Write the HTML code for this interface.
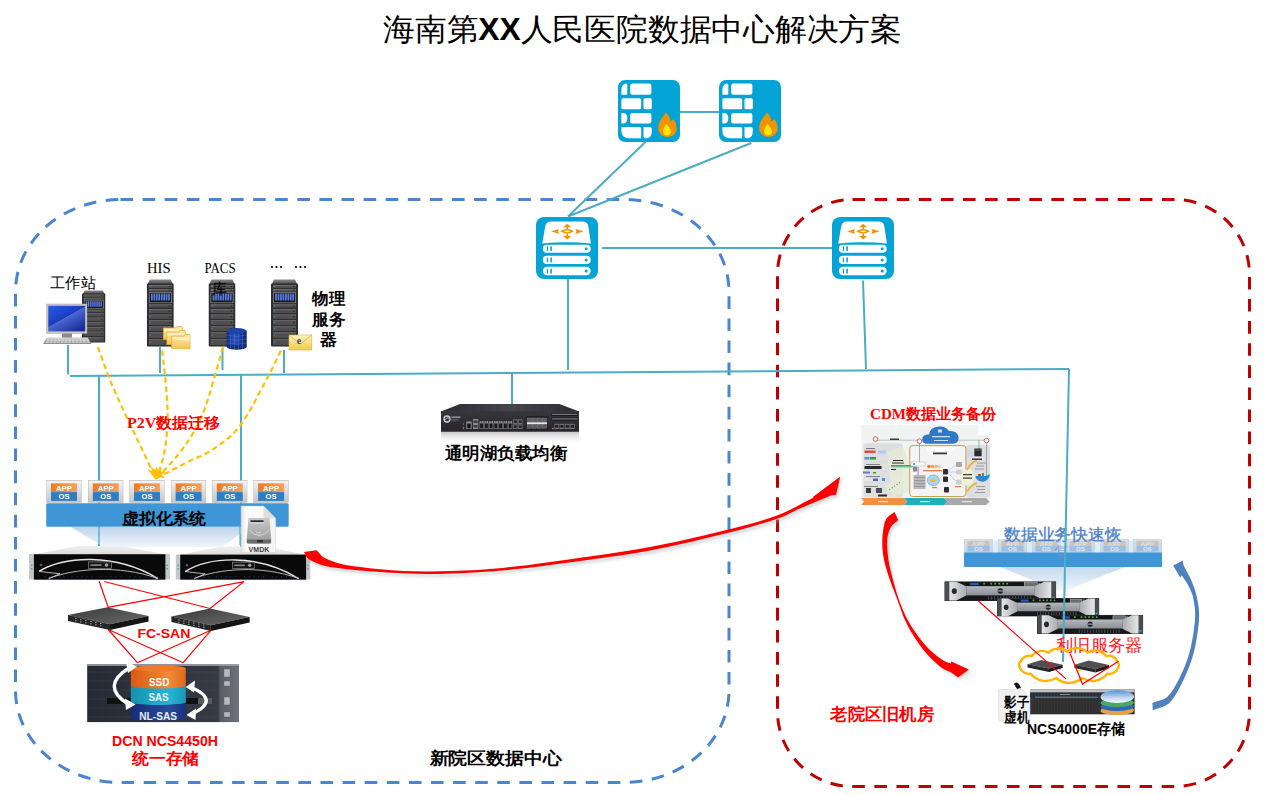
<!DOCTYPE html>
<html><head><meta charset="utf-8">
<style>
html,body{margin:0;padding:0;background:#fff;}
body{width:1266px;height:795px;overflow:hidden;position:relative;font-family:"Liberation Sans",sans-serif;}
svg{position:absolute;left:0;top:0;}
text{font-family:"Liberation Sans",sans-serif;}
.sf{font-family:"Liberation Serif",serif;}
</style></head><body>
<svg width="1266" height="795" viewBox="0 0 1266 795">
<defs>
<symbol id="fw" viewBox="0 0 62 62" width="62" height="62">
<rect x="0" y="0" width="62" height="62" rx="7" fill="#03a4d5"/>
<g fill="#fff">
<path d="M3.4 14.8 V10 Q3.4 4 8 3.5 Q9.3 3.5 9.3 5 V13.3 Q9.3 14.8 7.8 14.8 Z"/>
<rect x="12.2" y="3.5" width="21.2" height="11.3" rx="2.2"/>
<rect x="3.4" y="18.3" width="19.8" height="10.9" rx="1.5"/>
<rect x="25.5" y="18.3" width="8.3" height="10.9" rx="1.5"/>
<path d="M3.4 33 H5.5 Q9.3 33.5 9.3 38.2 Q9.3 43 5.5 43.5 H3.4 Z"/>
<rect x="12.2" y="33" width="21.2" height="10.5" rx="2.2"/>
<path d="M3.4 47 H21.5 Q23.2 47 23.2 49 V58.3 H11 Q3.4 58.3 3.4 51 Z"/>
<path d="M25.5 47 H32 Q33.8 47 33.8 49 V51 Q33.8 58.3 28.5 58.3 Q25.5 58.3 25.5 56 Z"/>
</g>
<path d="M49.5 56.9 C43 56.9 40.1 52 40.1 48 C40.1 43 43 39.5 45 36.5 C46.5 34.5 47.5 33 47.6 32.2 C50 34 52 37 52.5 41.5 C53.5 40.5 54.5 40 55.5 39.3 C57.5 42 58.6 45 58.6 48.5 C58.6 53.5 55 56.9 49.5 56.9 Z" fill="#f39200"/>
<path d="M49 55.5 C46.5 55.5 45 53.5 45 51 C45 48 47.5 46 48.5 43.7 C50 46 52.9 48.5 52.9 51.5 C52.9 54 51 55.5 49 55.5 Z" fill="#ffe800"/>
</symbol>
<symbol id="sw" viewBox="0 0 62 62" width="62" height="62">
<rect x="0" y="0" width="62" height="62" rx="8" fill="#03a4d5"/>
<path d="M6.2 26.6 L9.3 9 Q10.2 4.5 15 4.5 H46.5 Q51.5 4.5 52.3 9 L54.9 26.6 Q30.5 24 6.2 26.6 Z" fill="#fff"/>
<g fill="#f39200">
<path d="M15.1 14.3 L23 11.9 L22 14.3 L23 16.9 Z"/>
<path d="M47.7 14.3 L39.4 11.9 L40.4 14.3 L39.4 16.9 Z"/>
<path d="M31.2 6.7 L35.2 10.3 H32 V11.9 H30.4 V10.3 H27.1 Z"/>
<path d="M31.2 22.6 L35.2 19 H32 V16.8 H30.4 V19 H27.1 Z"/>
<path d="M24.4 14.3 Q31.2 9.6 37.9 14.3 Q31.2 19 24.4 14.3 Z M27.9 14.4 Q31.1 16 34.3 14.4 Q31.1 12.7 27.9 14.4 Z" fill-rule="evenodd"/>
</g>
<g fill="#fff">
<rect x="6.8" y="27.7" width="47.9" height="8" rx="4"/>
<rect x="6.8" y="38.7" width="47.9" height="8.3" rx="4.1"/>
<rect x="6.8" y="49.8" width="47.9" height="8.5" rx="4.2"/>
</g>
<g fill="#03a4d5">
<rect x="10.8" y="29.3" width="1.2" height="4.8"/><rect x="14.3" y="29.3" width="1.6" height="4.8"/><circle cx="50.2" cy="31.7" r="1.5"/>
<rect x="10.8" y="40.5" width="1.2" height="4.8"/><rect x="14.3" y="40.5" width="1.6" height="4.8"/><circle cx="50.2" cy="42.9" r="1.5"/>
<rect x="10.8" y="51.7" width="1.2" height="4.8"/><rect x="14.3" y="51.7" width="1.6" height="4.8"/><circle cx="50.2" cy="54.1" r="1.5"/>
</g>
</symbol>
<symbol id="tower" viewBox="0 0 27 68" width="27" height="68" preserveAspectRatio="none">
<linearGradient id="tcap" x1="0" y1="0" x2="0" y2="1"><stop offset="0" stop-color="#8a8a8a"/><stop offset="1" stop-color="#4a4a4a"/></linearGradient>
<path d="M1 5 L3 0.5 H24 L26 5 Z" fill="url(#tcap)"/>
<rect x="0" y="4.5" width="27" height="63" rx="1" fill="#2e2e2e"/>
<rect x="2" y="6" width="23" height="3" fill="#4e4e4e"/><rect x="2" y="6" width="23" height="0.7" fill="#7a7a7a"/><rect x="2.8" y="7.0" width="1.3" height="1" fill="#4a8ad8"/><rect x="22" y="7.0" width="1.5" height="1" fill="#222"/><rect x="2" y="10" width="23" height="2.6" fill="#4e4e4e"/><rect x="2" y="10" width="23" height="0.7" fill="#7a7a7a"/><rect x="2.8" y="10.8" width="1.3" height="1" fill="#4a8ad8"/><rect x="22" y="10.8" width="1.5" height="1" fill="#222"/><rect x="2" y="25.5" width="23" height="3" fill="#4e4e4e"/><rect x="2" y="25.5" width="23" height="0.7" fill="#7a7a7a"/><rect x="2.8" y="26.5" width="1.3" height="1" fill="#4a8ad8"/><rect x="22" y="26.5" width="1.5" height="1" fill="#222"/><rect x="2" y="30" width="23" height="4.2" fill="#4e4e4e"/><rect x="2" y="30" width="23" height="0.7" fill="#7a7a7a"/><rect x="2.8" y="31.6" width="1.3" height="1" fill="#4a8ad8"/><rect x="22" y="31.6" width="1.5" height="1" fill="#222"/><rect x="2" y="35.6" width="23" height="4.4" fill="#4e4e4e"/><rect x="2" y="35.6" width="23" height="0.7" fill="#7a7a7a"/><rect x="2.8" y="37.300000000000004" width="1.3" height="1" fill="#4a8ad8"/><rect x="22" y="37.300000000000004" width="1.5" height="1" fill="#222"/><rect x="2" y="41.4" width="23" height="4.6" fill="#4e4e4e"/><rect x="2" y="41.4" width="23" height="0.7" fill="#7a7a7a"/><rect x="2.8" y="43.199999999999996" width="1.3" height="1" fill="#4a8ad8"/><rect x="22" y="43.199999999999996" width="1.5" height="1" fill="#222"/><rect x="2" y="47.4" width="23" height="4.6" fill="#4e4e4e"/><rect x="2" y="47.4" width="23" height="0.7" fill="#7a7a7a"/><rect x="2.8" y="49.199999999999996" width="1.3" height="1" fill="#4a8ad8"/><rect x="22" y="49.199999999999996" width="1.5" height="1" fill="#222"/><rect x="2" y="53.4" width="23" height="5.6" fill="#4e4e4e"/><rect x="2" y="53.4" width="23" height="0.7" fill="#7a7a7a"/><rect x="2.8" y="55.699999999999996" width="1.3" height="1" fill="#4a8ad8"/><rect x="22" y="55.699999999999996" width="1.5" height="1" fill="#222"/><rect x="2" y="60.4" width="23" height="5.6" fill="#4e4e4e"/><rect x="2" y="60.4" width="23" height="0.7" fill="#7a7a7a"/><rect x="2.8" y="62.699999999999996" width="1.3" height="1" fill="#4a8ad8"/><rect x="22" y="62.699999999999996" width="1.5" height="1" fill="#222"/>
<rect x="2" y="13.3" width="23" height="10.8" fill="#8a8a8a"/>
<rect x="2.8" y="14" width="21.4" height="9.4" fill="#1a1a1a"/>
<rect x="4.20" y="14.5" width="1.7" height="7" fill="#5a7ee8"/><rect x="6.65" y="14.5" width="1.7" height="7" fill="#5a7ee8"/><rect x="9.10" y="14.5" width="1.7" height="7" fill="#5a7ee8"/><rect x="11.55" y="14.5" width="1.7" height="7" fill="#5a7ee8"/><rect x="14.00" y="14.5" width="1.7" height="7" fill="#5a7ee8"/><rect x="16.45" y="14.5" width="1.7" height="7" fill="#5a7ee8"/><rect x="18.90" y="14.5" width="1.7" height="7" fill="#5a7ee8"/><rect x="21.35" y="14.5" width="1.7" height="7" fill="#5a7ee8"/>
</symbol>
<linearGradient id="scrG" x1="0" y1="0" x2="0.8" y2="1"><stop offset="0" stop-color="#2a5ee0"/><stop offset="0.5" stop-color="#1a3cc0"/><stop offset="0.51" stop-color="#4a6ad0"/><stop offset="1" stop-color="#1a2a9a"/></linearGradient>
<linearGradient id="kbG" x1="0" y1="0" x2="0" y2="1"><stop offset="0" stop-color="#d8d8d8"/><stop offset="1" stop-color="#8a8a8a"/></linearGradient>
<linearGradient id="foldG" x1="0" y1="0" x2="0" y2="1"><stop offset="0" stop-color="#ffe9a8"/><stop offset="1" stop-color="#f5c45a"/></linearGradient>
<symbol id="folder" viewBox="0 0 20 15" width="20" height="15" preserveAspectRatio="none">
<path d="M0.5 2 H13 L14 0.5 H19 L19.5 1.5 V14.5 H0.5 Z" fill="url(#foldG)" stroke="#e8a838" stroke-width="0.8"/>
<path d="M1 3 H19 V7 L1 5 Z" fill="#fff6d8" opacity="0.6"/>
</symbol>
<linearGradient id="dbG" x1="0" y1="0" x2="1" y2="0"><stop offset="0" stop-color="#0f2a80"/><stop offset="0.4" stop-color="#2a52c0"/><stop offset="1" stop-color="#0e2470"/></linearGradient>
<linearGradient id="envG" x1="0" y1="0" x2="0" y2="1"><stop offset="0" stop-color="#fff3b8"/><stop offset="1" stop-color="#f0cc50"/></linearGradient>
<linearGradient id="tileG" x1="0" y1="0" x2="0" y2="1"><stop offset="0" stop-color="#f4f4f4"/><stop offset="1" stop-color="#c4c4c4"/></linearGradient>
<linearGradient id="appG" x1="0" y1="0" x2="1" y2="0"><stop offset="0" stop-color="#ee7a22"/><stop offset="1" stop-color="#f5a060"/></linearGradient>
<symbol id="tile" viewBox="0 0 35.5 22.7" width="35.5" height="22.7">
<rect x="0.3" y="0.3" width="34.9" height="22.4" fill="url(#tileG)" stroke="#b4b4b4" stroke-width="0.6"/>
<rect x="4.8" y="3.3" width="26" height="8.7" fill="url(#appG)"/>
<rect x="4.8" y="12" width="26" height="8.8" fill="#2e7ec6"/>
<text x="17.8" y="10.6" font-size="7.5" font-weight="bold" fill="#fff" text-anchor="middle" textLength="16" lengthAdjust="spacingAndGlyphs">APP</text>
<text x="17.8" y="19.4" font-size="7.5" font-weight="bold" fill="#fff" text-anchor="middle" textLength="11" lengthAdjust="spacingAndGlyphs">OS</text>
</symbol>
<linearGradient id="projG" x1="0" y1="0" x2="0" y2="1"><stop offset="0" stop-color="#b8d0ea"/><stop offset="1" stop-color="#eef4fb"/></linearGradient>
<linearGradient id="bevG" x1="0" y1="0" x2="0" y2="1"><stop offset="0" stop-color="#f0f0f0"/><stop offset="1" stop-color="#dcdcdc"/></linearGradient>
<symbol id="rack1u" viewBox="0 0 141 34.5" width="141" height="34.5" preserveAspectRatio="none">
<path d="M4.9 9 L48 0.4 H93 L136.4 9 Z" fill="url(#bevG)"/>
<rect x="0" y="8.6" width="5.2" height="25.5" rx="1" fill="#c4c6c8"/>
<rect x="135.8" y="8.6" width="5.2" height="25.5" rx="1" fill="#c4c6c8"/>
<rect x="4.9" y="8.7" width="131.5" height="25.5" fill="#0a0a0a"/>
<path d="M10 25.9 C 35 11, 85 7, 128.7 33" fill="none" stroke="#e4e4e4" stroke-width="1.5"/>
<path d="M19.7 33 C 45 23, 90 19, 128.7 33" fill="none" stroke="#b8b8b8" stroke-width="1"/>
<path d="M10 25.9 L 31 28.3 L 19.7 33" fill="none" stroke="#c8c8c8" stroke-width="0.9"/>
<rect x="59.4" y="16.4" width="23" height="6.5" fill="#151515" stroke="#9a9a9a" stroke-width="0.6"/>
<rect x="61.5" y="18.8" width="11" height="1.6" fill="#8a8a8a"/><circle cx="77.5" cy="19.6" r="1.8" fill="#9a9a9a"/>
<circle cx="12" cy="19.5" r="1.3" fill="#5a5a5a"/>
<g fill="#2a4a9a"><circle cx="16" cy="31.3" r="0.55"/><circle cx="21" cy="31.3" r="0.55"/><circle cx="30" cy="31.3" r="0.55"/><circle cx="35" cy="31.3" r="0.55"/><circle cx="43" cy="31.3" r="0.55"/><circle cx="48" cy="31.3" r="0.55"/><circle cx="53" cy="31.3" r="0.55"/><circle cx="58" cy="31.3" r="0.55"/><circle cx="63" cy="31.3" r="0.55"/><circle cx="72" cy="31.3" r="0.55"/><circle cx="77" cy="31.3" r="0.55"/><circle cx="82" cy="31.3" r="0.55"/><circle cx="87" cy="31.3" r="0.55"/><circle cx="92" cy="31.3" r="0.55"/><circle cx="101" cy="31.3" r="0.55"/><circle cx="106" cy="31.3" r="0.55"/><circle cx="111" cy="31.3" r="0.55"/><circle cx="116" cy="31.3" r="0.55"/><circle cx="121" cy="31.3" r="0.55"/><circle cx="126" cy="31.3" r="0.55"/></g>
<rect x="2" y="19" width="1.5" height="1.5" fill="#5ab05a"/><rect x="2" y="22.5" width="1.5" height="1.5" fill="#3a9ad8"/>
<rect x="137.5" y="19" width="1.5" height="1.5" fill="#5ab05a"/><rect x="137.5" y="22.5" width="1.5" height="1.5" fill="#3a9ad8"/>
</symbol>
<marker id="yArr" viewBox="0 0 10 10" refX="8" refY="5" markerWidth="6" markerHeight="6" orient="auto"><path d="M0 0 L10 5 L0 10 Z" fill="#ffc000"/></marker>
<linearGradient id="ssdG" x1="0" y1="0" x2="1" y2="0"><stop offset="0" stop-color="#d85a10"/><stop offset="0.7" stop-color="#f08a3a"/><stop offset="1" stop-color="#e06818"/></linearGradient>
<linearGradient id="sasG" x1="0" y1="0" x2="1" y2="0"><stop offset="0" stop-color="#1590b0"/><stop offset="0.7" stop-color="#28b4d4"/><stop offset="1" stop-color="#1898b8"/></linearGradient>
<linearGradient id="nlG" x1="0" y1="0" x2="1" y2="0"><stop offset="0" stop-color="#142e78"/><stop offset="0.7" stop-color="#2a4a9a"/><stop offset="1" stop-color="#16327e"/></linearGradient>
<linearGradient id="chG" x1="0" y1="0" x2="1" y2="0"><stop offset="0" stop-color="#262a34"/><stop offset="0.5" stop-color="#303440"/><stop offset="0.86" stop-color="#363a44"/><stop offset="0.88" stop-color="#5a5e66"/><stop offset="1" stop-color="#6e7278"/></linearGradient>
<linearGradient id="fcTop" x1="0" y1="0" x2="1" y2="1"><stop offset="0" stop-color="#3a3a3a"/><stop offset="1" stop-color="#6a6a6a"/></linearGradient>
<linearGradient id="lbTop" x1="0" y1="0" x2="1" y2="0"><stop offset="0" stop-color="#2c2c32"/><stop offset="0.5" stop-color="#44444a"/><stop offset="1" stop-color="#2c2c32"/></linearGradient>
<linearGradient id="lbFront" x1="0" y1="0" x2="0" y2="1"><stop offset="0" stop-color="#36363c"/><stop offset="1" stop-color="#26262a"/></linearGradient>
<linearGradient id="reflG" x1="0" y1="0" x2="0" y2="1"><stop offset="0" stop-color="#c8c8c8"/><stop offset="1" stop-color="#ffffff" stop-opacity="0"/></linearGradient>
<linearGradient id="bezL" x1="0" y1="0" x2="1" y2="0"><stop offset="0" stop-color="#e8e8ea"/><stop offset="1" stop-color="#a8aaae"/></linearGradient>
<linearGradient id="bezR" x1="0" y1="0" x2="1" y2="0"><stop offset="0" stop-color="#a8aaae"/><stop offset="1" stop-color="#e8e8ea"/></linearGradient>
<linearGradient id="midG" x1="0" y1="0" x2="0" y2="1"><stop offset="0" stop-color="#b4b8bc"/><stop offset="1" stop-color="#8a8e94"/></linearGradient>
<symbol id="dell" viewBox="0 0 112 20" width="112" height="20" preserveAspectRatio="none">
<rect x="0" y="0" width="112" height="20" fill="#2c3036"/>
<rect x="0.5" y="0.5" width="4.5" height="19" fill="#4a4e54"/>
<rect x="107" y="0.5" width="4.5" height="19" fill="#4a4e54"/>
<rect x="12" y="1" width="88" height="3.8" fill="#141414"/>
<rect x="26" y="1.7" width="8.5" height="2.3" fill="#2a5ab8"/>
<g fill="#5aa04a"><rect x="39" y="1.6" width="1.8" height="1.8"/><rect x="46" y="1.6" width="1.8" height="1.8"/><rect x="50" y="1.6" width="1.8" height="1.8"/><rect x="54" y="1.6" width="1.8" height="1.8"/><rect x="58" y="1.6" width="1.8" height="1.8"/><rect x="62" y="1.6" width="1.8" height="1.8"/><rect x="90" y="1.6" width="1.8" height="1.8"/><rect x="94" y="1.6" width="1.8" height="1.8"/></g>
<rect x="80" y="1.2" width="13" height="6.5" fill="#6a6e74" stroke="#c8c8c8" stroke-width="0.5"/>
<rect x="22" y="5" width="68" height="9.5" fill="url(#midG)"/>
<rect x="12" y="14.5" width="88" height="5" fill="#18181a"/>
<g fill="#5a5e64"><rect x="44" y="15.3" width="0.8" height="3.5"/><rect x="47" y="15.3" width="0.8" height="3.5"/><rect x="50" y="15.3" width="0.8" height="3.5"/><rect x="53" y="15.3" width="0.8" height="3.5"/><rect x="56" y="15.3" width="0.8" height="3.5"/><rect x="59" y="15.3" width="0.8" height="3.5"/><rect x="62" y="15.3" width="0.8" height="3.5"/><rect x="65" y="15.3" width="0.8" height="3.5"/><rect x="68" y="15.3" width="0.8" height="3.5"/><rect x="71" y="15.3" width="0.8" height="3.5"/><rect x="74" y="15.3" width="0.8" height="3.5"/><rect x="77" y="15.3" width="0.8" height="3.5"/><rect x="80" y="15.3" width="0.8" height="3.5"/><rect x="83" y="15.3" width="0.8" height="3.5"/><rect x="86" y="15.3" width="0.8" height="3.5"/></g>
<path d="M5 0.5 H12 L22 5 V14.5 L12 19.5 H5 Z" fill="url(#bezL)"/>
<path d="M107 0.5 H100 L90 5 V14.5 L100 19.5 H107 Z" fill="url(#bezR)"/>
<ellipse cx="10" cy="10" rx="2.6" ry="3" fill="#2a2a2e"/>
<circle cx="56" cy="9.8" r="2.8" fill="#222" /><rect x="53" y="9.2" width="6" height="1.2" fill="#9a9ea4"/>
<rect x="108" y="16" width="2" height="1.5" fill="#3ab0d8"/>
</symbol>
<linearGradient id="tileF" x1="0" y1="0" x2="0" y2="1"><stop offset="0" stop-color="#e0e4e8"/><stop offset="1" stop-color="#c4ccd4"/></linearGradient>
<symbol id="tileFaded" viewBox="0 0 29 14" width="29" height="14">
<rect x="0.3" y="0.3" width="28.4" height="13.5" fill="url(#tileF)" stroke="#bcc4cc" stroke-width="0.5"/>
<rect x="3.5" y="2" width="22" height="5" fill="#e0a070"/>
<rect x="3.5" y="7" width="22" height="5.5" fill="#6a9ed0"/>
<text x="14.5" y="6.6" font-size="5" font-weight="bold" fill="#f4e8e0" text-anchor="middle" textLength="13" lengthAdjust="spacingAndGlyphs">APP</text>
<text x="14.5" y="12" font-size="5" font-weight="bold" fill="#f0f6fc" text-anchor="middle" textLength="9" lengthAdjust="spacingAndGlyphs">OS</text>
</symbol>
<linearGradient id="diskTop" x1="0" y1="0" x2="0" y2="1"><stop offset="0" stop-color="#5a9ad8"/><stop offset="0.6" stop-color="#c8dcf0"/><stop offset="1" stop-color="#f4f8fc"/></linearGradient>
</defs>
<!-- title -->
<text x="383" y="40" font-size="31" fill="#000" textLength="519" lengthAdjust="spacingAndGlyphs">海南第<tspan font-weight="bold">XX</tspan>人民医院数据中心解决方案</text>

<!-- dashed regions -->
<rect x="15.5" y="199.5" width="713.5" height="583" rx="105" ry="92" fill="none" stroke="#4a86d0" stroke-width="3" stroke-dasharray="12.6 9.5"/>
<rect x="777.5" y="199.5" width="472" height="587" rx="75" ry="75" fill="none" stroke="#c00000" stroke-width="3" stroke-dasharray="12.6 9.5"/>

<!-- network lines -->
<g stroke="#4bacc6" stroke-width="2" fill="none">
<line x1="680" y1="112" x2="719" y2="112"/>
<line x1="645.7" y1="141.7" x2="568" y2="216.5"/>
<line x1="751.3" y1="143" x2="568" y2="216.5"/>
<line x1="602" y1="248" x2="832" y2="248"/>
<line x1="568" y1="279" x2="568" y2="370"/>
<line x1="863" y1="280.5" x2="866" y2="369"/>
<line x1="70" y1="376" x2="1069" y2="369"/>
<line x1="68" y1="345" x2="68" y2="374.5"/>
<line x1="160" y1="347" x2="160" y2="373"/>
<line x1="222.5" y1="348" x2="222.5" y2="370"/>
<line x1="284" y1="350" x2="284" y2="373"/>
<line x1="99" y1="376" x2="99" y2="547"/>
<line x1="241" y1="375" x2="241" y2="547"/>
<line x1="512" y1="373" x2="512" y2="404"/>
</g>

<!-- firewalls -->
<use href="#fw" x="618" y="80"/>
<use href="#fw" x="719" y="80"/>
<!-- switches -->
<use href="#sw" x="536" y="217"/>
<use href="#sw" x="832" y="217"/>


<!-- left top devices -->
<g id="ws">
<use href="#tower" x="82" y="290" width="23.5" height="53"/>
<rect x="46.5" y="304" width="40.5" height="29.5" fill="#c8c8c8" stroke="#9a9a9a" stroke-width="0.4"/>
<rect x="48.3" y="305.8" width="36.9" height="25.6" fill="url(#scrG)"/>
<rect x="62" y="333.5" width="10" height="4.5" fill="#8a8a8a"/>
<path d="M46.5 337.5 H87.5 L91.5 344 H43 Z" fill="url(#kbG)"/>
<rect x="47.0" y="339.5" width="2.6" height="1.2" fill="#f0f0f0" opacity="0.7"/><rect x="46.0" y="341.6" width="2.8" height="1.2" fill="#f0f0f0" opacity="0.7"/><rect x="50.6" y="339.5" width="2.6" height="1.2" fill="#f0f0f0" opacity="0.7"/><rect x="49.7" y="341.6" width="2.8" height="1.2" fill="#f0f0f0" opacity="0.7"/><rect x="54.2" y="339.5" width="2.6" height="1.2" fill="#f0f0f0" opacity="0.7"/><rect x="53.4" y="341.6" width="2.8" height="1.2" fill="#f0f0f0" opacity="0.7"/><rect x="57.8" y="339.5" width="2.6" height="1.2" fill="#f0f0f0" opacity="0.7"/><rect x="57.1" y="341.6" width="2.8" height="1.2" fill="#f0f0f0" opacity="0.7"/><rect x="61.4" y="339.5" width="2.6" height="1.2" fill="#f0f0f0" opacity="0.7"/><rect x="60.8" y="341.6" width="2.8" height="1.2" fill="#f0f0f0" opacity="0.7"/><rect x="65.0" y="339.5" width="2.6" height="1.2" fill="#f0f0f0" opacity="0.7"/><rect x="64.5" y="341.6" width="2.8" height="1.2" fill="#f0f0f0" opacity="0.7"/><rect x="68.6" y="339.5" width="2.6" height="1.2" fill="#f0f0f0" opacity="0.7"/><rect x="68.2" y="341.6" width="2.8" height="1.2" fill="#f0f0f0" opacity="0.7"/><rect x="72.2" y="339.5" width="2.6" height="1.2" fill="#f0f0f0" opacity="0.7"/><rect x="71.9" y="341.6" width="2.8" height="1.2" fill="#f0f0f0" opacity="0.7"/><rect x="75.8" y="339.5" width="2.6" height="1.2" fill="#f0f0f0" opacity="0.7"/><rect x="75.6" y="341.6" width="2.8" height="1.2" fill="#f0f0f0" opacity="0.7"/><rect x="79.4" y="339.5" width="2.6" height="1.2" fill="#f0f0f0" opacity="0.7"/><rect x="79.3" y="341.6" width="2.8" height="1.2" fill="#f0f0f0" opacity="0.7"/><rect x="83.0" y="339.5" width="2.6" height="1.2" fill="#f0f0f0" opacity="0.7"/><rect x="83.0" y="341.6" width="2.8" height="1.2" fill="#f0f0f0" opacity="0.7"/><rect x="86.6" y="339.5" width="2.6" height="1.2" fill="#f0f0f0" opacity="0.7"/><rect x="86.7" y="341.6" width="2.8" height="1.2" fill="#f0f0f0" opacity="0.7"/>
</g>
<use href="#tower" x="146.8" y="279" width="27" height="68"/>
<use href="#tower" x="208.5" y="279" width="27" height="68"/>
<use href="#tower" x="271" y="279" width="27" height="68"/>
<use href="#folder" x="162.9" y="326" width="19.9" height="14.3"/>
<use href="#folder" x="166.3" y="330" width="19.5" height="15.3"/>
<use href="#folder" x="171.1" y="334" width="19.5" height="15.3"/>
<g id="db">
<rect x="226.7" y="331" width="20" height="16" fill="url(#dbG)"/>
<ellipse cx="236.7" cy="347" rx="10" ry="2.8" fill="#14307e"/>
<ellipse cx="236.7" cy="331" rx="10" ry="3" fill="#1e44a8"/>
<g stroke="#5a7ad0" stroke-width="0.5" fill="none" opacity="0.8"><path d="M226.8 335 Q236.7 338 246.6 335"/><path d="M226.8 339 Q236.7 342 246.6 339"/><path d="M226.8 343 Q236.7 346 246.6 343"/><path d="M230.5 333.5 V349"/><path d="M234.5 334 V349.6"/><path d="M238.5 334 V349.6"/><path d="M242.5 333.5 V349"/></g>
</g>
<g id="env">
<rect x="289" y="335" width="22.8" height="15" fill="url(#envG)" stroke="#d8b040" stroke-width="0.6"/>
<path d="M289 335 L300.4 344 L311.8 335" fill="none" stroke="#d8b040" stroke-width="0.8"/>
<path d="M289 350 L297 343 M311.8 350 L303.8 343" stroke="#e8c860" stroke-width="0.6"/>
<text x="296.8" y="344" font-size="10" font-weight="bold" fill="#2a4a9a" class="sf">e</text>
</g>
<!-- labels -->
<text x="50" y="288" font-size="15" textLength="46" lengthAdjust="spacingAndGlyphs" fill="#000">工作站</text>
<text x="147" y="273" font-size="15" textLength="23.5" lengthAdjust="spacingAndGlyphs" fill="#000" class="sf">HIS</text>
<text x="204.5" y="273" font-size="15" textLength="31.2" lengthAdjust="spacingAndGlyphs" fill="#000" class="sf">PACS</text>
<text x="212" y="294" font-size="15" textLength="15" lengthAdjust="spacingAndGlyphs" fill="#000">库</text>
<g fill="#000"><circle cx="272" cy="267" r="1.1"/><circle cx="276.5" cy="267" r="1.1"/><circle cx="281" cy="267" r="1.1"/><circle cx="296" cy="267" r="1.1"/><circle cx="300.5" cy="267" r="1.1"/><circle cx="305" cy="267" r="1.1"/></g>
<g font-size="16" font-weight="bold" fill="#000">
<text x="312" y="303.5" textLength="33" lengthAdjust="spacingAndGlyphs">物理</text>
<text x="312" y="324.5" textLength="33" lengthAdjust="spacingAndGlyphs">服务</text>
<text x="320" y="345" textLength="17" lengthAdjust="spacingAndGlyphs">器</text>
</g>

<!-- P2V migration -->
<g stroke="#ffc000" stroke-width="2.2" fill="none" stroke-dasharray="5.5 3.5">
<path d="M97.9 347.0 L100.3 353.6 L102.6 360.2 L104.9 366.7 L107.4 373.3 L110.0 380.0 L112.8 386.8 L115.9 393.7 L119.0 400.6 L122.1 407.4 L125.2 414.0 L128.2 420.4 L131.2 426.6 L134.1 432.8 L137.1 438.9 L140.0 445.0 L142.9 451.1 L145.8 457.2 L148.7 463.3 L151.6 469.4 L154.5 475.5"/>
<path d="M162.2 350.6 L163.1 359.2 L164.1 368.0 L165.1 376.7 L165.9 385.0 L166.6 392.8 L167.1 399.8 L167.4 406.3 L167.6 412.5 L167.7 418.4 L167.5 424.5 L167.1 430.7 L166.5 437.0 L165.8 443.1 L164.9 449.0 L163.9 454.4 L162.8 459.3 L161.5 463.6 L160.2 467.8 L158.8 471.8 L157.5 476.0"/>
<path d="M222.9 347.0 L221.4 352.5 L220.0 357.8 L218.5 363.2 L216.9 368.9 L215.0 375.2 L212.9 382.4 L210.7 390.3 L208.2 398.5 L205.6 406.5 L202.7 414.0 L199.6 420.8 L196.4 427.2 L192.9 433.4 L189.1 439.5 L185.0 445.6 L180.5 451.7 L175.5 457.7 L170.4 463.6 L165.1 469.5 L160.0 475.5"/>
<path d="M281.0 350.6 L278.2 356.3 L275.5 361.8 L272.8 367.4 L269.7 373.5 L266.0 380.5 L261.4 389.0 L256.3 398.8 L250.7 408.9 L245.1 418.4 L239.6 426.3 L234.3 432.5 L229.0 437.6 L223.6 441.9 L218.4 445.7 L213.2 449.2 L208.2 452.3 L203.4 454.8 L198.6 456.9 L193.7 459.1 L188.6 461.5 L183.3 464.3 L177.8 467.1 L172.2 470.1 L166.6 473.1 L161.0 476.0"/>
</g>
<path d="M147.6 469.5 L152 471 L151 466.5 L155 470 L156.5 466 L158 470.5 L161.5 468 L161 471.5 L165.2 472.5 L161.5 474.5 L165 478 L160 477.5 L155.5 479.8 L152.5 475.5 Z" fill="#ffc000"/>
<text x="127" y="428" font-size="15" font-weight="bold" fill="#ff0000" textLength="93" lengthAdjust="spacingAndGlyphs" class="sf">P2V数据迁移</text>

<!-- virtualization -->
<path d="M71 527 H250 L222 547 H104 Z" fill="url(#projG)" opacity="0.9"/>
<g stroke="#4bacc6" stroke-width="1.5" opacity="0.8"><line x1="99" y1="527" x2="99" y2="545"/><line x1="240" y1="527" x2="240" y2="545"/></g>
<use href="#tile" x="46.2" y="480.1"/>
<use href="#tile" x="88" y="480.1"/>
<use href="#tile" x="129.2" y="480.1"/>
<use href="#tile" x="170.8" y="480.1"/>
<use href="#tile" x="212" y="480.1"/>
<use href="#tile" x="253.3" y="480.1"/>
<rect x="46.2" y="503.2" width="242.5" height="23.5" rx="1.5" fill="#3e96d6"/>
<text x="122" y="523.5" font-size="16" font-weight="bold" fill="#000" textLength="84" lengthAdjust="spacingAndGlyphs">虚拟化系统</text>
<use href="#rack1u" x="29" y="545.5" width="141" height="34.5"/>
<use href="#rack1u" x="175.5" y="546" width="135" height="34"/>
<g id="vmdk">
<linearGradient id="pgG" x1="0" y1="0" x2="1" y2="0"><stop offset="0" stop-color="#e4e4e4"/><stop offset="0.15" stop-color="#fbfbfb"/><stop offset="1" stop-color="#f4f4f4"/></linearGradient>
<linearGradient id="hdG" x1="0" y1="0" x2="0" y2="1"><stop offset="0" stop-color="#c8c8c8"/><stop offset="1" stop-color="#9a9a9a"/></linearGradient>
<path d="M241.1 506.1 H263.5 L275.7 518.3 V552.6 H241.1 Z" fill="url(#pgG)" stroke="#cfcfcf" stroke-width="0.5"/>
<path d="M263.5 506.1 V518.3 H275.7 Z" fill="#dedede"/>
<path d="M248.5 518 H269.5 L271.3 541 Q271.3 543.8 268.5 543.8 H249.3 Q246.5 543.8 246.5 541 Z" fill="url(#hdG)"/>
<rect x="250.5" y="520.3" width="13" height="2" fill="#2a2a2a"/><rect x="250" y="522.3" width="14" height="1" fill="#e8e8e8"/>
<path d="M249 530 Q259 541 269 530" fill="none" stroke="#e0e0e0" stroke-width="0.8"/>
<path d="M256 532 Q258.5 534 261 532" fill="none" stroke="#e8e8e8" stroke-width="0.7"/>
<rect x="247" y="539.5" width="24" height="3.8" fill="#6a6a6a"/><rect x="257" y="540.3" width="6" height="2" fill="#2a2a2a"/>
<text x="248.6" y="551.6" font-size="7" font-weight="bold" fill="#3a3a3a" textLength="20.7" lengthAdjust="spacingAndGlyphs">VMDK</text>
</g>

<!-- FC SAN -->
<g stroke="#ff0000" stroke-width="1.2" fill="none">
<path d="M99.2 581.3 L108.2 607.4 M104.2 581.5 L210 608.5 M244 581.6 L108.2 607.4 M244 581.6 L210 608.5"/>
<path d="M108.2 629.5 L137.4 662.7 M108.2 629.5 L183.2 662.7 M210.9 630.3 L137.4 662.7 M210.9 630.3 L183.2 662.7"/>
</g>
<g id="fc1">
<path d="M68 615 L107.5 607.3 L148.5 616 L110 624.3 Z" fill="url(#fcTop)"/>
<path d="M68 615 L110 624.3 L110 630 L68 621 Z" fill="#262626"/>
<path d="M110 624.3 L148.5 616 L148.5 621.5 L110 630 Z" fill="#141414"/>
<g fill="#9a9a9a"><rect x="75" y="618" width="1.6" height="1"/><rect x="80" y="619" width="1.6" height="1"/><rect x="85" y="620" width="1.6" height="1"/><rect x="90" y="621" width="1.6" height="1"/><rect x="95" y="622" width="1.6" height="1"/><rect x="100" y="623" width="1.6" height="1"/><rect x="75" y="620.3" width="1.6" height="1"/><rect x="80" y="621.3" width="1.6" height="1"/><rect x="85" y="622.3" width="1.6" height="1"/><rect x="90" y="623.3" width="1.6" height="1"/><rect x="95" y="624.3" width="1.6" height="1"/><rect x="100" y="625.3" width="1.6" height="1"/></g>
</g>
<g id="fc2">
<path d="M171.4 616.4 L210 608.5 L249.6 616.9 L210.9 625.2 Z" fill="url(#fcTop)"/>
<path d="M171.4 616.4 L210.9 625.2 L210.9 631 L171.4 622 Z" fill="#262626"/>
<path d="M210.9 625.2 L249.6 616.9 L249.6 622.5 L210.9 631 Z" fill="#141414"/>
<g fill="#9a9a9a"><rect x="178" y="619.5" width="1.6" height="1"/><rect x="183" y="620.5" width="1.6" height="1"/><rect x="188" y="621.5" width="1.6" height="1"/><rect x="193" y="622.5" width="1.6" height="1"/><rect x="198" y="623.5" width="1.6" height="1"/><rect x="203" y="624.5" width="1.6" height="1"/><rect x="178" y="621.8" width="1.6" height="1"/><rect x="183" y="622.8" width="1.6" height="1"/><rect x="188" y="623.8" width="1.6" height="1"/><rect x="193" y="624.8" width="1.6" height="1"/><rect x="198" y="625.8" width="1.6" height="1"/><rect x="203" y="626.8" width="1.6" height="1"/></g>
</g>
<text x="137.4" y="638" font-size="13" font-weight="bold" fill="#ff0000" textLength="53" lengthAdjust="spacingAndGlyphs">FC-SAN</text>

<!-- storage NCS4450H -->
<g id="ncs4450">
<rect x="87.2" y="664.4" width="151.8" height="57.7" fill="url(#chG)"/>
<g stroke="#4a4e58" stroke-width="0.5" opacity="0.7"><line x1="87" y1="672" x2="218" y2="672"/><line x1="87" y1="681" x2="218" y2="681"/><line x1="87" y1="690" x2="218" y2="690"/><line x1="87" y1="699" x2="218" y2="699"/><line x1="87" y1="708" x2="218" y2="708"/><line x1="87" y1="717" x2="218" y2="717"/></g>
<g fill="#b8bac0" stroke="#555" stroke-width="0.4"><rect x="224" y="669" width="6" height="8"/><rect x="224" y="681" width="6" height="5"/><rect x="224" y="697" width="6" height="8"/><rect x="224" y="712" width="6" height="5"/></g><rect x="87.2" y="664.4" width="151.8" height="1.5" fill="#9a9ea6"/>
<rect x="107" y="698" width="24" height="6" fill="#111"/><rect x="186" y="698" width="12" height="6" fill="#111"/><rect x="198" y="698" width="14" height="6" fill="#5a5a5e"/>
<path d="M130.8 702 V717.5 A27.5 3 0 0 0 185.8 717.5 V702 Z" fill="url(#nlG)"/>
<path d="M130.8 685.6 V702 A27.5 3 0 0 0 185.8 702 V685.6 Z" fill="url(#sasG)"/>
<path d="M130.8 668.4 V685.6 A27.5 3 0 0 0 185.8 685.6 V668.4 Z" fill="url(#ssdG)"/>
<ellipse cx="158.3" cy="668.4" rx="27.5" ry="3" fill="#f07a28"/>
<text x="149" y="685.5" font-size="11" font-weight="bold" fill="#fff" textLength="20.3" lengthAdjust="spacingAndGlyphs">SSD</text>
<text x="148.4" y="700.8" font-size="11" font-weight="bold" fill="#e8f4f8" textLength="20.2" lengthAdjust="spacingAndGlyphs">SAS</text>
<text x="139.3" y="719.8" font-size="11" font-weight="bold" fill="#e8ecf4" textLength="37.7" lengthAdjust="spacingAndGlyphs">NL-SAS</text>
<path d="M129 668 Q100 686 128 704" fill="none" stroke="#fff" stroke-width="3.4"/>
<path d="M126 661.5 L137 666.5 L128 673 Z M125 698.5 L135.5 704.5 L126 710 Z" fill="#fff"/>
<path d="M190 687 Q222 700 191 714.5" fill="none" stroke="#fff" stroke-width="3.4"/>
<path d="M195 680.5 L185.5 687 L194 692.5 Z M196 708.5 L186.5 715 L195.5 720 Z" fill="#fff"/>
</g>
<text x="112" y="746" font-size="15" font-weight="bold" fill="#ff0000" textLength="106" lengthAdjust="spacingAndGlyphs">DCN NCS4450H</text>
<text x="132" y="764" font-size="16" font-weight="bold" fill="#ff0000" textLength="67" lengthAdjust="spacingAndGlyphs">统一存储</text>
<text x="429.5" y="764" font-size="17" font-weight="bold" fill="#000" textLength="132.5" lengthAdjust="spacingAndGlyphs">新院区数据中心</text>

<!-- load balancer -->
<g id="lb">
<rect x="441" y="432" width="138" height="13" fill="url(#reflG)"/>
<path d="M441 411.6 L460 403.9 H559.4 L579 411.6 Z" fill="url(#lbTop)"/>
<rect x="441" y="411" width="138" height="20.8" fill="url(#lbFront)"/>
<circle cx="447" cy="419" r="3" fill="none" stroke="#d0d0d4" stroke-width="1.3"/><path d="M444.5 420 Q447 417 449.5 418" stroke="#d0d0d4" stroke-width="0.8" fill="none"/>
<rect x="451.5" y="416.5" width="9" height="1.4" fill="#9a9aa0"/><rect x="451.5" y="419.5" width="7" height="0.9" fill="#7a7a80"/>
<rect x="466.3" y="421.5" width="5.4" height="7.5" fill="#8a8a90"/><rect x="467.2" y="423.5" width="3.6" height="4.8" fill="#18181c"/><rect x="473" y="419" width="5.2" height="10" fill="#8a8a90"/><rect x="473.6" y="420.5" width="4" height="2.5" fill="#3a3a40"/><rect x="473.6" y="425" width="4" height="2.5" fill="#3a3a40"/><rect x="479.50" y="421.5" width="4.2" height="7.5" fill="#7e7e84"/><rect x="480.10" y="423.5" width="3" height="4.8" fill="#18181c"/><rect x="479.80" y="421" width="1" height="0.8" fill="#e06a8a"/><rect x="482.30" y="421" width="1" height="0.8" fill="#6ac88a"/><rect x="484.25" y="421.5" width="4.2" height="7.5" fill="#7e7e84"/><rect x="484.85" y="423.5" width="3" height="4.8" fill="#18181c"/><rect x="484.55" y="421" width="1" height="0.8" fill="#e06a8a"/><rect x="487.05" y="421" width="1" height="0.8" fill="#6ac88a"/><rect x="489.00" y="421.5" width="4.2" height="7.5" fill="#7e7e84"/><rect x="489.60" y="423.5" width="3" height="4.8" fill="#18181c"/><rect x="489.30" y="421" width="1" height="0.8" fill="#e06a8a"/><rect x="491.80" y="421" width="1" height="0.8" fill="#6ac88a"/><rect x="493.75" y="421.5" width="4.2" height="7.5" fill="#7e7e84"/><rect x="494.35" y="423.5" width="3" height="4.8" fill="#18181c"/><rect x="494.05" y="421" width="1" height="0.8" fill="#e06a8a"/><rect x="496.55" y="421" width="1" height="0.8" fill="#6ac88a"/><rect x="498.50" y="421.5" width="4.2" height="7.5" fill="#7e7e84"/><rect x="499.10" y="423.5" width="3" height="4.8" fill="#18181c"/><rect x="498.80" y="421" width="1" height="0.8" fill="#e06a8a"/><rect x="501.30" y="421" width="1" height="0.8" fill="#6ac88a"/><rect x="503.25" y="421.5" width="4.2" height="7.5" fill="#7e7e84"/><rect x="503.85" y="423.5" width="3" height="4.8" fill="#18181c"/><rect x="503.55" y="421" width="1" height="0.8" fill="#e06a8a"/><rect x="506.05" y="421" width="1" height="0.8" fill="#6ac88a"/><rect x="508.00" y="421.5" width="4.2" height="7.5" fill="#7e7e84"/><rect x="508.60" y="423.5" width="3" height="4.8" fill="#18181c"/><rect x="508.30" y="421" width="1" height="0.8" fill="#e06a8a"/><rect x="510.80" y="421" width="1" height="0.8" fill="#6ac88a"/><rect x="513.0" y="419.5" width="4.4" height="4.2" fill="#8a8a90"/><rect x="513.6" y="420.3" width="3.2" height="2.6" fill="#202024"/><rect x="513.0" y="424.5" width="4.4" height="4.2" fill="#8a8a90"/><rect x="513.6" y="425.3" width="3.2" height="2.6" fill="#202024"/><rect x="518.0" y="419.5" width="4.4" height="4.2" fill="#8a8a90"/><rect x="518.6" y="420.3" width="3.2" height="2.6" fill="#202024"/><rect x="518.0" y="424.5" width="4.4" height="4.2" fill="#8a8a90"/><rect x="518.6" y="425.3" width="3.2" height="2.6" fill="#202024"/><rect x="526.5" y="416" width="21" height="14" fill="#202024"/><rect x="527.3" y="418.0" width="4.3" height="4" fill="#5a5a60" stroke="#909096" stroke-width="0.4"/><rect x="527.3" y="424.2" width="4.3" height="4" fill="#5a5a60" stroke="#909096" stroke-width="0.4"/><rect x="532.3" y="418.0" width="4.3" height="4" fill="#5a5a60" stroke="#909096" stroke-width="0.4"/><rect x="532.3" y="424.2" width="4.3" height="4" fill="#5a5a60" stroke="#909096" stroke-width="0.4"/><rect x="537.3" y="418.0" width="4.3" height="4" fill="#5a5a60" stroke="#909096" stroke-width="0.4"/><rect x="537.3" y="424.2" width="4.3" height="4" fill="#5a5a60" stroke="#909096" stroke-width="0.4"/><rect x="542.3" y="418.0" width="4.3" height="4" fill="#5a5a60" stroke="#909096" stroke-width="0.4"/><rect x="542.3" y="424.2" width="4.3" height="4" fill="#5a5a60" stroke="#909096" stroke-width="0.4"/><rect x="527" y="422.3" width="20" height="1.8" fill="#e8e8ec"/><rect x="551.5" y="413" width="26.5" height="3" fill="#18181c"/><rect x="552" y="413.8" width="25.5" height="1.2" fill="#7a7a80"/><rect x="551.5" y="417.5" width="26.5" height="3" fill="#18181c"/><rect x="552" y="418.3" width="25.5" height="1.2" fill="#7a7a80"/><rect x="554.5" y="423.8" width="4.6" height="5.2" fill="#7a7a80"/><rect x="555.1" y="424.8" width="3.4" height="3" fill="#222"/><rect x="559.7" y="423.8" width="4.6" height="5.2" fill="#7a7a80"/><rect x="560.3" y="424.8" width="3.4" height="3" fill="#222"/><rect x="564.9" y="423.8" width="4.6" height="5.2" fill="#7a7a80"/><rect x="565.5" y="424.8" width="3.4" height="3" fill="#222"/><rect x="570.1" y="423.8" width="4.6" height="5.2" fill="#7a7a80"/><rect x="570.7" y="424.8" width="3.4" height="3" fill="#222"/>
<circle cx="463.5" cy="428" r="0.8" fill="#e89020"/><circle cx="463.5" cy="424" r="0.7" fill="#4a8ad8"/><circle cx="553" cy="428.5" r="0.8" fill="#e89020"/>
</g>
<text x="444.5" y="458.5" font-size="17" font-weight="bold" fill="#000" textLength="122.5" lengthAdjust="spacingAndGlyphs">通明湖负载均衡</text>

<!-- big arrows -->
<g id="arrows">
<filter id="shd" x="-10%" y="-10%" width="120%" height="130%"><feGaussianBlur stdDeviation="1.5"/></filter>
<path d="M316.3 550.2 L317.8 551.6 L319.1 553.1 L320.3 554.5 L321.8 556.0 L323.7 557.4 L326.3 558.7 L329.2 560.0 L332.3 561.3 L335.8 562.6 L340.1 563.8 L345.4 564.9 L352.0 566.0 L360.2 567.1 L369.8 568.2 L380.4 569.2 L391.7 570.2 L403.4 570.9 L415.0 571.3 L426.8 571.4 L439.1 571.3 L451.8 571.0 L464.6 570.5 L477.4 569.9 L490.0 569.0 L502.4 567.9 L514.6 566.6 L526.9 565.2 L539.3 563.5 L551.9 561.8 L565.0 560.0 L578.7 558.1 L592.8 556.1 L607.3 554.0 L621.8 551.8 L636.1 549.5 L650.0 547.0 L663.8 544.3 L677.7 541.4 L691.5 538.3 L704.7 535.2 L717.1 532.3 L728.4 529.5 L738.4 527.0 L747.2 524.7 L755.3 522.5 L762.8 520.3 L769.9 518.0 L777.0 515.5 L783.8 512.7 L790.1 509.8 L796.1 506.8 L802.0 503.6 L807.8 500.5 L813.8 497.5 L812.5 497.2 L840.3 476.4 L836.0 494.7 L831.5 495.3 L826.2 497.5 L820.7 499.8 L815.2 502.1 L809.9 504.3 L804.8 506.5 L800.0 508.5 L796.0 510.3 L792.7 512.0 L789.6 513.6 L786.2 515.2 L782.2 516.9 L777.0 518.8 L770.7 520.9 L763.8 523.1 L756.2 525.3 L747.8 527.7 L738.5 530.2 L728.4 532.8 L717.1 535.6 L704.7 538.6 L691.5 541.7 L677.7 544.8 L663.8 547.8 L650.0 550.5 L636.1 552.9 L621.8 555.2 L607.3 557.3 L592.8 559.3 L578.7 561.2 L565.0 563.0 L551.9 564.7 L539.3 566.4 L526.9 567.9 L514.6 569.3 L502.4 570.5 L490.0 571.5 L477.5 572.3 L465.1 573.0 L452.6 573.5 L440.2 573.9 L427.6 574.0 L415.0 573.8 L401.7 573.3 L387.5 572.5 L373.3 571.5 L359.8 570.4 L347.7 569.2 L337.7 568.0 L330.1 566.9 L324.3 565.7 L320.0 564.4 L316.6 563.1 L313.7 561.8 L311.0 560.5 L308.7 559.1 L307.2 557.7 L306.3 556.3 L305.6 554.9 L304.9 553.4 L304.0 552.0 Z" fill="#a0a8a8" opacity="0.45" transform="translate(1.5,3)" filter="url(#shd)"/>
<path d="M894.5 511.9 L893.1 513.0 L891.6 514.0 L890.1 515.1 L888.7 516.2 L887.4 517.4 L886.3 518.8 L885.5 520.4 L884.8 522.1 L884.3 523.9 L883.9 525.9 L883.5 527.9 L883.2 530.1 L882.9 532.4 L882.6 534.8 L882.4 537.3 L882.3 539.9 L882.3 542.6 L882.3 545.2 L882.4 547.8 L882.6 550.4 L882.9 553.1 L883.3 555.8 L883.8 558.6 L884.4 561.5 L885.1 564.5 L886.0 567.6 L886.9 570.7 L887.9 574.0 L889.0 577.2 L890.1 580.4 L891.2 583.6 L892.4 586.9 L893.7 590.1 L895.0 593.4 L896.2 596.7 L897.5 600.0 L898.7 603.3 L899.9 606.7 L901.1 610.1 L902.3 613.5 L903.6 616.9 L905.0 620.1 L906.5 623.3 L908.1 626.4 L909.8 629.4 L911.5 632.4 L913.3 635.3 L915.1 638.2 L917.0 641.0 L918.9 643.8 L920.9 646.6 L922.9 649.2 L925.0 651.8 L927.2 654.3 L929.5 656.8 L931.9 659.2 L934.4 661.5 L936.8 663.7 L939.2 665.7 L941.3 667.4 L943.2 668.7 L944.9 669.7 L946.6 670.4 L948.1 671.0 L949.7 671.7 L951.3 672.4 L957.9 677.5 L968.9 669.4 L951.3 661.4 L950.8 663.4 L949.6 663.0 L948.5 662.7 L947.4 662.3 L946.2 661.9 L944.9 661.3 L943.3 660.4 L941.4 659.2 L939.3 657.7 L937.0 656.0 L934.7 654.2 L932.4 652.3 L930.2 650.3 L928.1 648.2 L926.1 646.0 L924.0 643.7 L922.0 641.3 L920.0 638.8 L918.1 636.2 L916.2 633.5 L914.2 630.8 L912.4 628.0 L910.5 625.1 L908.8 622.1 L907.1 619.1 L905.5 616.0 L904.1 612.8 L902.7 609.5 L901.4 606.3 L900.1 603.1 L899.0 600.0 L898.0 597.0 L897.0 594.2 L896.2 591.4 L895.4 588.6 L894.6 585.8 L893.8 582.9 L893.0 580.0 L892.2 577.0 L891.4 574.0 L890.7 571.1 L890.0 568.2 L889.4 565.3 L888.9 562.5 L888.4 559.6 L888.1 556.8 L887.7 554.1 L887.5 551.5 L887.3 549.0 L887.2 546.7 L887.1 544.4 L887.1 542.3 L887.2 540.3 L887.3 538.3 L887.6 536.4 L888.0 534.5 L888.5 532.7 L889.0 531.0 L889.7 529.4 L890.5 527.8 L891.3 526.4 L892.3 525.1 L893.4 524.0 L894.5 523.0 L895.8 522.1 L897.0 521.1 L898.2 520.1 Z" fill="#a0a8a8" opacity="0.45" transform="translate(2,2.5)" filter="url(#shd)"/>
<path d="M316.3 550.2 L317.8 551.6 L319.1 553.1 L320.3 554.5 L321.8 556.0 L323.7 557.4 L326.3 558.7 L329.2 560.0 L332.3 561.3 L335.8 562.6 L340.1 563.8 L345.4 564.9 L352.0 566.0 L360.2 567.1 L369.8 568.2 L380.4 569.2 L391.7 570.2 L403.4 570.9 L415.0 571.3 L426.8 571.4 L439.1 571.3 L451.8 571.0 L464.6 570.5 L477.4 569.9 L490.0 569.0 L502.4 567.9 L514.6 566.6 L526.9 565.2 L539.3 563.5 L551.9 561.8 L565.0 560.0 L578.7 558.1 L592.8 556.1 L607.3 554.0 L621.8 551.8 L636.1 549.5 L650.0 547.0 L663.8 544.3 L677.7 541.4 L691.5 538.3 L704.7 535.2 L717.1 532.3 L728.4 529.5 L738.4 527.0 L747.2 524.7 L755.3 522.5 L762.8 520.3 L769.9 518.0 L777.0 515.5 L783.8 512.7 L790.1 509.8 L796.1 506.8 L802.0 503.6 L807.8 500.5 L813.8 497.5 L812.5 497.2 L840.3 476.4 L836.0 494.7 L831.5 495.3 L826.2 497.5 L820.7 499.8 L815.2 502.1 L809.9 504.3 L804.8 506.5 L800.0 508.5 L796.0 510.3 L792.7 512.0 L789.6 513.6 L786.2 515.2 L782.2 516.9 L777.0 518.8 L770.7 520.9 L763.8 523.1 L756.2 525.3 L747.8 527.7 L738.5 530.2 L728.4 532.8 L717.1 535.6 L704.7 538.6 L691.5 541.7 L677.7 544.8 L663.8 547.8 L650.0 550.5 L636.1 552.9 L621.8 555.2 L607.3 557.3 L592.8 559.3 L578.7 561.2 L565.0 563.0 L551.9 564.7 L539.3 566.4 L526.9 567.9 L514.6 569.3 L502.4 570.5 L490.0 571.5 L477.5 572.3 L465.1 573.0 L452.6 573.5 L440.2 573.9 L427.6 574.0 L415.0 573.8 L401.7 573.3 L387.5 572.5 L373.3 571.5 L359.8 570.4 L347.7 569.2 L337.7 568.0 L330.1 566.9 L324.3 565.7 L320.0 564.4 L316.6 563.1 L313.7 561.8 L311.0 560.5 L308.7 559.1 L307.2 557.7 L306.3 556.3 L305.6 554.9 L304.9 553.4 L304.0 552.0 Z" fill="#ff0000"/>
<path d="M894.5 511.9 L893.1 513.0 L891.6 514.0 L890.1 515.1 L888.7 516.2 L887.4 517.4 L886.3 518.8 L885.5 520.4 L884.8 522.1 L884.3 523.9 L883.9 525.9 L883.5 527.9 L883.2 530.1 L882.9 532.4 L882.6 534.8 L882.4 537.3 L882.3 539.9 L882.3 542.6 L882.3 545.2 L882.4 547.8 L882.6 550.4 L882.9 553.1 L883.3 555.8 L883.8 558.6 L884.4 561.5 L885.1 564.5 L886.0 567.6 L886.9 570.7 L887.9 574.0 L889.0 577.2 L890.1 580.4 L891.2 583.6 L892.4 586.9 L893.7 590.1 L895.0 593.4 L896.2 596.7 L897.5 600.0 L898.7 603.3 L899.9 606.7 L901.1 610.1 L902.3 613.5 L903.6 616.9 L905.0 620.1 L906.5 623.3 L908.1 626.4 L909.8 629.4 L911.5 632.4 L913.3 635.3 L915.1 638.2 L917.0 641.0 L918.9 643.8 L920.9 646.6 L922.9 649.2 L925.0 651.8 L927.2 654.3 L929.5 656.8 L931.9 659.2 L934.4 661.5 L936.8 663.7 L939.2 665.7 L941.3 667.4 L943.2 668.7 L944.9 669.7 L946.6 670.4 L948.1 671.0 L949.7 671.7 L951.3 672.4 L957.9 677.5 L968.9 669.4 L951.3 661.4 L950.8 663.4 L949.6 663.0 L948.5 662.7 L947.4 662.3 L946.2 661.9 L944.9 661.3 L943.3 660.4 L941.4 659.2 L939.3 657.7 L937.0 656.0 L934.7 654.2 L932.4 652.3 L930.2 650.3 L928.1 648.2 L926.1 646.0 L924.0 643.7 L922.0 641.3 L920.0 638.8 L918.1 636.2 L916.2 633.5 L914.2 630.8 L912.4 628.0 L910.5 625.1 L908.8 622.1 L907.1 619.1 L905.5 616.0 L904.1 612.8 L902.7 609.5 L901.4 606.3 L900.1 603.1 L899.0 600.0 L898.0 597.0 L897.0 594.2 L896.2 591.4 L895.4 588.6 L894.6 585.8 L893.8 582.9 L893.0 580.0 L892.2 577.0 L891.4 574.0 L890.7 571.1 L890.0 568.2 L889.4 565.3 L888.9 562.5 L888.4 559.6 L888.1 556.8 L887.7 554.1 L887.5 551.5 L887.3 549.0 L887.2 546.7 L887.1 544.4 L887.1 542.3 L887.2 540.3 L887.3 538.3 L887.6 536.4 L888.0 534.5 L888.5 532.7 L889.0 531.0 L889.7 529.4 L890.5 527.8 L891.3 526.4 L892.3 525.1 L893.4 524.0 L894.5 523.0 L895.8 522.1 L897.0 521.1 L898.2 520.1 Z" fill="#ff0000"/>
<path d="M1152.8 710.4 L1156.0 709.0 L1159.2 708.0 L1162.4 707.0 L1165.6 705.6 L1168.8 703.4 L1172.0 700.0 L1175.3 695.2 L1178.9 689.1 L1182.4 682.3 L1185.7 675.1 L1188.8 667.8 L1191.3 661.0 L1193.3 654.3 L1195.0 647.4 L1196.3 640.4 L1197.4 633.7 L1198.2 627.5 L1198.8 622.0 L1199.1 617.3 L1199.1 613.3 L1198.9 609.7 L1198.5 606.4 L1198.0 603.2 L1197.4 600.0 L1196.8 596.8 L1196.0 593.7 L1195.2 590.7 L1194.2 587.8 L1193.1 584.9 L1192.0 582.0 L1190.7 579.1 L1189.3 576.2 L1187.9 573.4 L1186.3 570.5 L1184.8 567.7 L1183.3 564.8 L1183.0 560.4 L1173.2 565.4 L1180.4 577.7 L1181.7 575.2 L1182.9 577.0 L1184.0 578.7 L1185.2 580.4 L1186.4 582.2 L1187.5 584.0 L1188.5 586.0 L1189.5 588.1 L1190.5 590.1 L1191.4 592.3 L1192.3 594.6 L1193.0 597.2 L1193.6 600.0 L1194.1 603.0 L1194.6 606.2 L1195.0 609.6 L1195.2 613.3 L1195.1 617.4 L1194.8 622.0 L1194.2 627.3 L1193.4 633.3 L1192.3 639.7 L1191.0 646.3 L1189.4 652.8 L1187.5 659.0 L1185.2 665.2 L1182.4 671.8 L1179.4 678.2 L1176.2 684.3 L1173.0 689.7 L1170.0 694.0 L1167.1 697.0 L1164.1 698.9 L1161.2 700.1 L1158.3 701.0 L1155.3 701.8 L1152.4 703.0 Z" fill="#4f81bd"/>
</g>

<!-- CDM -->
<text x="870" y="418.5" font-size="15" font-weight="bold" fill="#ff0000" textLength="126.5" lengthAdjust="spacingAndGlyphs" class="sf">CDM数据业务备份</text>
<g id="cdm">
<rect x="861.3" y="425" width="128.7" height="80.6" fill="#f1f3f3"/>
<rect x="978" y="425" width="12.7" height="10" fill="#fff"/>
<line x1="875" y1="440.2" x2="987" y2="440.2" stroke="#8a8a8a" stroke-width="0.5"/>
<rect x="863.5" y="443.3" width="39.3" height="54" rx="2.5" fill="#dcdee0"/>
<rect x="966" y="445" width="24" height="52.4" rx="2" fill="#dcdee0"/>
<path d="M887 452 L903 446 L911 470 L909 492 L892 497 Z" fill="#e6ead6" opacity="0.8"/>
<rect x="909.7" y="445.6" width="56.2" height="50.9" rx="3" fill="#f4f4f4" stroke="#c4a050" stroke-width="1"/>
<path d="M926 443.8 Q921 443 922.5 437.5 Q924 434 929 434.5 Q930 427 939 426.5 Q946 426 949 431 Q957 430 958.6 437 Q959 443.8 953 443.8 Z" fill="#2e7ac8"/>
<g fill="#cfe0f4"><rect x="932" y="436" width="18" height="1.3"/><rect x="934" y="440" width="14" height="1"/><rect x="938" y="429.5" width="4" height="3"/></g>
<g fill="#fff" stroke="#d04040" stroke-width="0.8"><circle cx="875.5" cy="439" r="2.3"/><circle cx="919.5" cy="441.2" r="2.3"/><circle cx="986.5" cy="440.5" r="2.3"/></g>
<rect x="890" y="438.5" width="9" height="1.5" fill="#3a3a3a"/>
<line x1="919.5" y1="443.5" x2="919.5" y2="462" stroke="#6a6a6a" stroke-width="0.5"/>
<line x1="986.5" y1="443" x2="986.5" y2="478" stroke="#6a6a6a" stroke-width="0.5"/>
<line x1="979" y1="440" x2="979" y2="449" stroke="#6a6a6a" stroke-width="0.5"/>
<rect x="866" y="448" width="9" height="0.8" fill="#5a5a5a"/>
<rect x="864.5" y="450.5" width="11" height="2.5" fill="#d83a2a" opacity="0.85"/>
<rect x="878" y="450.5" width="8" height="3" fill="#a8d0f0"/>
<rect x="864.5" y="457" width="5" height="2.5" fill="#6a8ad8"/><rect x="870" y="457" width="6" height="2.5" fill="#2aa040"/><rect x="878" y="457" width="10" height="2.5" fill="#e0e0e0"/>
<rect x="866" y="464" width="14" height="0.8" fill="#6a6a6a"/>
<rect x="864.5" y="466" width="17" height="3" fill="#2a2a2a"/>
<rect x="863" y="471.5" width="7" height="2" fill="#6a7ad0"/><rect x="872" y="471.5" width="12" height="2.5" fill="#e0e0e0"/><rect x="873" y="472" width="3" height="1.5" fill="#3a9a3a"/>
<rect x="866" y="476" width="14" height="0.8" fill="#6a6a6a"/>
<rect x="864" y="478.5" width="7" height="2.5" fill="#e8e8e8"/><rect x="873" y="478.5" width="5" height="2.5" fill="#4a6ad0"/><rect x="882" y="478" width="3" height="3" fill="#3a9ae0"/>
<rect x="864" y="486" width="14" height="0.8" fill="#6a6a6a"/>
<rect x="866" y="488" width="5" height="5" fill="#3a3a3a"/><rect x="876" y="488" width="6" height="5" fill="#4a4a5a"/>
<rect x="878" y="494.5" width="9" height="2" fill="#2a2a2a"/>
<g fill="#2a2a2a"><rect x="893" y="460" width="10" height="1"/><rect x="892" y="462.5" width="12" height="1"/><rect x="891" y="469" width="5" height="1"/></g>
<rect x="891" y="465" width="22" height="1.2" fill="#8a6ad8"/><rect x="891" y="466.2" width="22" height="1.2" fill="#5ac080"/>
<rect x="885" y="480" width="20" height="8" fill="#e6ead6" transform="rotate(-35 895 484)"/>
<g fill="#2aa040" transform="rotate(-35 895 484)"><rect x="887" y="485" width="1" height="1"/><rect x="890" y="485" width="1" height="1"/><rect x="893" y="485" width="1" height="1"/><rect x="896" y="485" width="1" height="1"/><rect x="899" y="485" width="1" height="1"/></g>
<rect x="927" y="447.5" width="28" height="3" fill="#fff"/>
<rect x="933" y="452.5" width="14" height="1.8" fill="#3a3a3a"/>
<rect x="911" y="462" width="14" height="4" fill="#fff" stroke="#9a9a9a" stroke-width="0.4"/><circle cx="914" cy="464" r="1" fill="#3a7ad0"/>
<rect x="913" y="466.5" width="4" height="5" fill="#8a8a8a"/>
<rect x="913.5" y="475" width="12" height="14" fill="#b8b8b8"/><g fill="#8a8a8a"><rect x="914" y="477" width="11" height="0.7"/><rect x="914" y="480" width="11" height="0.7"/><rect x="914" y="483" width="11" height="0.7"/><rect x="914" y="486" width="11" height="0.7"/></g>
<rect x="917.5" y="467" width="1.2" height="8" fill="#a88ae8"/>
<circle cx="929" cy="466.5" r="1.8" fill="#f07a20"/><circle cx="932.5" cy="466.5" r="1.8" fill="#f5a050"/><circle cx="936" cy="466.5" r="1.8" fill="#f5b070"/><circle cx="939.5" cy="466.5" r="1.8" fill="#f8c8a0"/>
<rect x="923" y="470" width="19" height="1.3" fill="#f07a3a"/>
<ellipse cx="933.3" cy="480.3" rx="6" ry="5.3" fill="#a8d4f0" stroke="#5a9ad0" stroke-width="0.6"/>
<rect x="930" y="479.5" width="6" height="2" fill="#e8b840"/>
<rect x="932" y="487" width="5" height="1.2" fill="#f07a3a"/>
<g stroke="#8ac8e8" stroke-width="0.6"><line x1="947" y1="472" x2="957" y2="464"/><line x1="947" y1="472" x2="957" y2="472"/><line x1="947" y1="472" x2="957" y2="482"/><line x1="940" y1="478" x2="944" y2="474"/></g>
<g fill="#2e2e2e"><rect x="943" y="469" width="5" height="5.5" rx="1"/><rect x="943" y="476.5" width="5" height="5.5" rx="1"/><rect x="944" y="487" width="5" height="5.5" rx="1"/></g>
<g fill="#a8a8a8"><rect x="956" y="462" width="6" height="5" rx="1"/></g><g fill="#d0d0d0"><rect x="956" y="469.5" width="6" height="5" rx="1"/><rect x="956" y="479.5" width="6" height="5" rx="1"/></g>
<rect x="955" y="486" width="6" height="1.2" fill="#f07a3a"/>
<path d="M961.7 469 H971 L975.3 477 L971 485.6 H961.7 Z" fill="#eef0d8"/>
<g fill="#3a3a3a"><rect x="963" y="474" width="9" height="1.2"/><rect x="963" y="477.5" width="9" height="1.2"/></g>
<path d="M967 470 Q970 463 977 460.5" fill="none" stroke="#f0b020" stroke-width="1.6"/>
<path d="M967 491.5 Q971 485 977 483" fill="none" stroke="#f0b020" stroke-width="1.6"/>
<rect x="974.3" y="448.5" width="7.3" height="7.8" fill="#2a2a2a"/><rect x="975" y="449.5" width="6" height="1" fill="#6a6a6a"/>
<rect x="968" y="450" width="5" height="7" fill="#c8d8e8"/>
<rect x="972" y="458.5" width="10" height="1.5" fill="#3a3a3a"/>
<g fill="#9a9a9a"><rect x="977" y="462.5" width="9" height="1"/><rect x="976" y="465.5" width="8" height="1"/><rect x="975" y="468.5" width="9" height="1"/><rect x="976" y="486" width="9" height="1"/><rect x="977" y="489" width="8" height="1"/><rect x="975" y="492" width="10" height="1"/></g>
<path d="M975.3 477 Q978 482.4 984 481.5 Q989 480 990 474 L986 476 H976 Z" fill="#2a8ad0"/>
<rect x="978" y="474" width="3" height="2" fill="#d03a3a"/><rect x="982" y="473" width="2" height="3" fill="#3aa05a"/>
<path d="M861.3 498 H904 L907.5 501.5 L904 505 H861.3 L864 501.5 Z" fill="#f39040"/>
<path d="M904 498 H944 L947.5 501.5 L944 505 H904 L907.5 501.5 Z" fill="#20b0b8"/>
<path d="M944 498 H986 L989.5 501.5 L986 505 H944 L947.5 501.5 Z" fill="#a8a8a8"/>
<g fill="#fde0c8"><rect x="878" y="501" width="10" height="1.2"/></g><g fill="#c8eef0"><rect x="920" y="501" width="10" height="1.2"/></g><g fill="#e8e8e8"><rect x="962" y="501" width="10" height="1.2"/></g>
</g>

<!-- recovery -->
<path d="M1000 567 H1125 L1062 592 Z" fill="url(#projG)" opacity="0.8"/>

<use href="#tileFaded" x="964" y="539"/>
<use href="#tileFaded" x="998" y="539"/>
<use href="#tileFaded" x="1032" y="539"/>
<use href="#tileFaded" x="1066" y="539"/>
<use href="#tileFaded" x="1100" y="539"/>
<use href="#tileFaded" x="1133" y="539"/>
<rect x="964" y="540.5" width="198" height="12.5" fill="#c4dcf2" opacity="0.55"/>
<rect x="964" y="552.5" width="198" height="14.5" rx="1" fill="#3e96d6"/>
<text x="1004" y="540" font-size="16" fill="#4a7ec8" stroke="#4a7ec8" stroke-width="0.3" textLength="117.5" lengthAdjust="spacingAndGlyphs">数据业务快速恢</text>
<text x="1054.4" y="558" font-size="16" fill="#6a8ed0" textLength="15.6" lengthAdjust="spacingAndGlyphs" opacity="0.7">复</text>
<use href="#dell" x="944.3" y="581.2" width="112" height="19.8"/>
<use href="#dell" x="997" y="598" width="102.4" height="18.6"/>
<use href="#dell" x="1037" y="614.7" width="106.3" height="19.3"/>
<line x1="1069" y1="369" x2="1063" y2="662" stroke="#4bacc6" stroke-width="2"/>
<text x="1056" y="650.5" font-size="17" fill="#ff2020" textLength="86.5" lengthAdjust="spacingAndGlyphs">利旧服务器</text>
<path d="M1020.9 661.3 A9.1 9.1 0 0 1 1031.8 656.0 A12.9 12.9 0 0 1 1048.7 652.7 A14.0 14.0 0 0 1 1067.3 651.5 A15.4 15.4 0 0 1 1087.7 652.5 A14.1 14.1 0 0 1 1106.2 656.0 A9.3 9.3 0 0 1 1117.3 661.5 A4.7 4.7 0 0 1 1117.9 667.8 A9.1 9.1 0 0 1 1107.3 673.7 A19.3 19.3 0 0 1 1081.9 678.0 A19.4 19.4 0 0 1 1056.1 678.0 A19.3 19.3 0 0 1 1030.7 673.7 A9.5 9.5 0 0 1 1019.8 667.3 A4.6 4.6 0 0 1 1020.9 661.3 Z" fill="none" stroke="#ffb400" stroke-width="2.4"/>
<g id="sw3">
<path d="M1027.5 664.2 L1041.3 659.9 L1062.6 664.8 L1049 668.5 Z" fill="#505052"/>
<path d="M1027.5 664.2 L1049 668.5 L1049 672 L1027.5 667.5 Z" fill="#2a2a2c"/>
<path d="M1049 668.5 L1062.6 664.8 L1062.6 668 L1049 672 Z" fill="#1a1a1a"/>
<path d="M1074.5 664.8 L1088.7 660.4 L1109 665 L1095.5 669 Z" fill="#505052"/>
<path d="M1074.5 664.8 L1095.5 669 L1095.5 672.5 L1074.5 668 Z" fill="#2a2a2c"/>
<path d="M1095.5 669 L1109 665 L1109 668.3 L1095.5 672.5 Z" fill="#1a1a1a"/>
<rect x="1058" y="669" width="3" height="1" fill="#ffe000"/><rect x="1078" y="669.5" width="3" height="1.5" fill="#ffe000"/>
</g>
<g stroke="#ff0000" stroke-width="1.2" fill="none">
<path d="M978.4 601 L1065.9 678.9"/>
<path d="M1070.2 653.7 L1082.5 684 L1118.5 661.3"/>
</g>
<g id="ncs4000">
<rect x="1030" y="689.5" width="104.6" height="24.8" fill="#2e2e30"/>
<rect x="1030" y="689.5" width="104.6" height="2.8" fill="#c0c0c4"/>
<g stroke="#48484c" stroke-width="0.5"><line x1="1032.0" y1="693" x2="1032.0" y2="713.5"/><line x1="1035.2" y1="693" x2="1035.2" y2="713.5"/><line x1="1038.4" y1="693" x2="1038.4" y2="713.5"/><line x1="1041.6" y1="693" x2="1041.6" y2="713.5"/><line x1="1044.8" y1="693" x2="1044.8" y2="713.5"/><line x1="1048.0" y1="693" x2="1048.0" y2="713.5"/><line x1="1051.2" y1="693" x2="1051.2" y2="713.5"/><line x1="1054.4" y1="693" x2="1054.4" y2="713.5"/><line x1="1057.6" y1="693" x2="1057.6" y2="713.5"/><line x1="1060.8" y1="693" x2="1060.8" y2="713.5"/><line x1="1064.0" y1="693" x2="1064.0" y2="713.5"/><line x1="1067.2" y1="693" x2="1067.2" y2="713.5"/><line x1="1070.4" y1="693" x2="1070.4" y2="713.5"/><line x1="1073.6" y1="693" x2="1073.6" y2="713.5"/><line x1="1076.8" y1="693" x2="1076.8" y2="713.5"/><line x1="1080.0" y1="693" x2="1080.0" y2="713.5"/><line x1="1083.2" y1="693" x2="1083.2" y2="713.5"/><line x1="1086.4" y1="693" x2="1086.4" y2="713.5"/><line x1="1089.6" y1="693" x2="1089.6" y2="713.5"/><line x1="1092.8" y1="693" x2="1092.8" y2="713.5"/><line x1="1096.0" y1="693" x2="1096.0" y2="713.5"/><line x1="1099.2" y1="693" x2="1099.2" y2="713.5"/></g>
<line x1="1035" y1="697.5" x2="1098" y2="697.5" stroke="#3a80b8" stroke-width="0.9"/>
<rect x="1060" y="694" width="10" height="1" fill="#8a8a8a"/>
<ellipse cx="1117.5" cy="710" rx="16.5" ry="4.2" fill="#e8a040"/>
<ellipse cx="1117.5" cy="706.5" rx="16.5" ry="4.2" fill="#2a6ab8"/>
<ellipse cx="1117.5" cy="702.5" rx="16.5" ry="4.2" fill="#4aa860"/>
<ellipse cx="1117.5" cy="696.5" rx="16.5" ry="6.5" fill="url(#diskTop)"/>
</g>
<line x1="1035" y1="697" x2="1098" y2="697" stroke="#3a7ab0" stroke-width="0.8"/>
<ellipse cx="1117" cy="711" rx="16.5" ry="4" fill="#e8a040"/>
<ellipse cx="1117" cy="707" rx="16.5" ry="4" fill="#2a6ab8"/>
<ellipse cx="1117" cy="703" rx="16.5" ry="4" fill="#4aa860"/>
<ellipse cx="1117" cy="697" rx="16.5" ry="6" fill="url(#diskTop)"/>
</g>
<g id="shadowvm">
<path d="M998.6 689.5 H1022 L1030 697 V720.6 H998.6 Z" fill="#f0f0f0" stroke="#d0d0d0" stroke-width="0.5"/>
<path d="M1014 684 Q1016 681 1019 684 L1021 688 L1017 689 Z" fill="#111"/>
<text x="1004" y="706.5" font-size="14" font-weight="bold" fill="#000" textLength="25" lengthAdjust="spacingAndGlyphs">影子</text>
<text x="1004" y="721.5" font-size="14" font-weight="bold" fill="#000" textLength="25" lengthAdjust="spacingAndGlyphs">虚机</text>
</g>
<text x="1027" y="734" font-size="15" font-weight="bold" fill="#000" textLength="98" lengthAdjust="spacingAndGlyphs">NCS4000E存储</text>
<text x="830.3" y="720" font-size="17" font-weight="bold" fill="#ff0000" textLength="103.7" lengthAdjust="spacingAndGlyphs">老院区旧机房</text>
</svg>
</body></html>
